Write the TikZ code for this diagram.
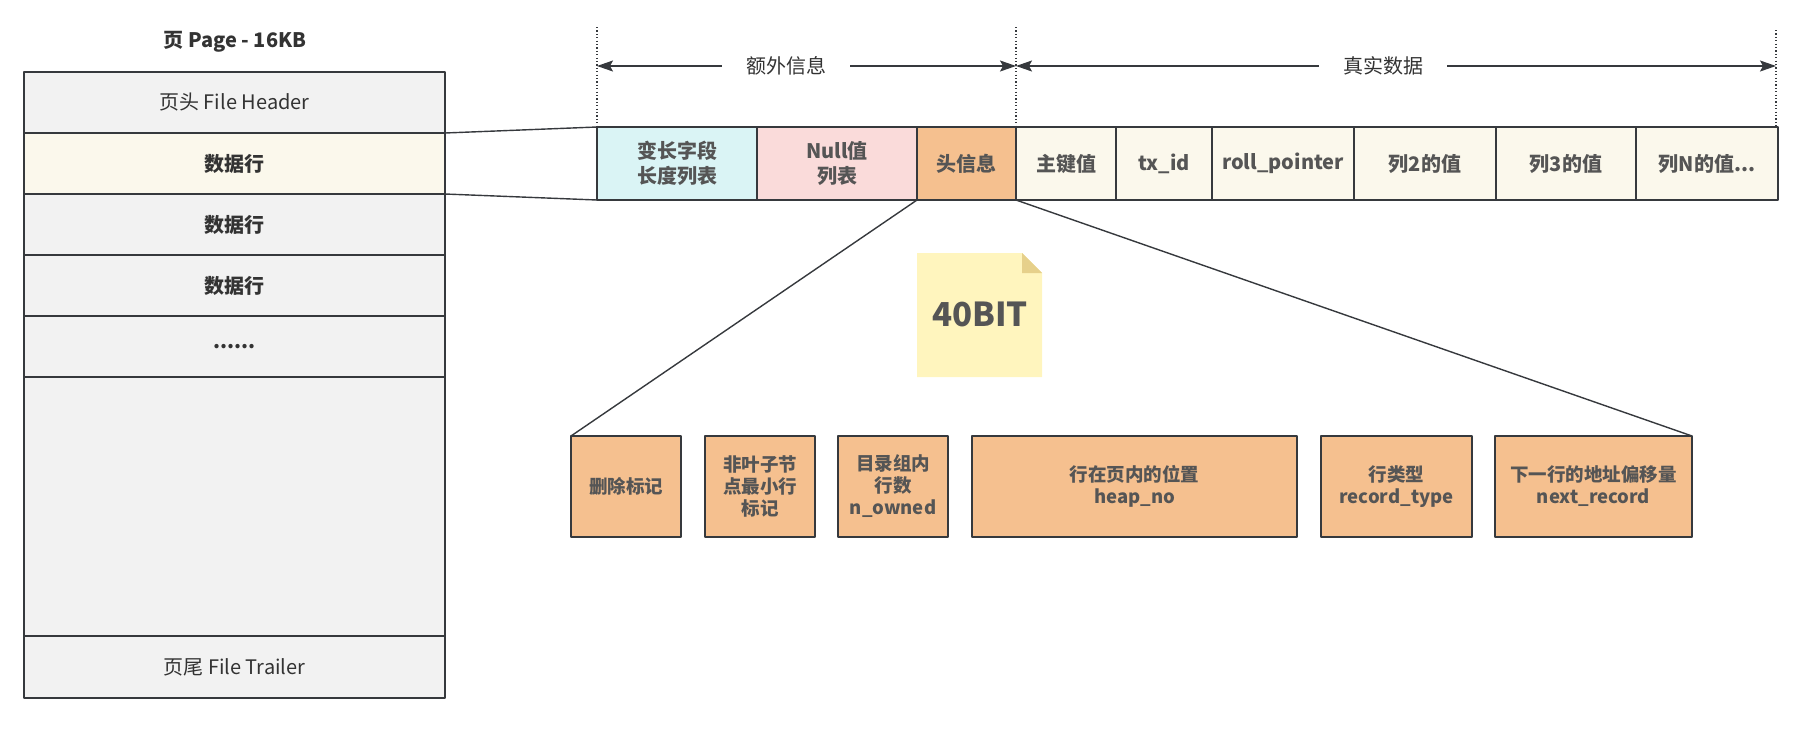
\documentclass[tikz,border=0pt]{standalone}
\usepackage{fontspec}
\setmainfont{Noto Sans CJK SC}
\usetikzlibrary{arrows.meta}
\definecolor{linegray}{HTML}{36393D}
\definecolor{txtdark}{HTML}{333333}
\definecolor{txtgray}{HTML}{555555}
\definecolor{pagegray}{HTML}{F2F2F2}
\definecolor{cream}{HTML}{FBF8EC}
\definecolor{varcyan}{HTML}{DAF4F5}
\definecolor{nullpink}{HTML}{FADBDA}
\definecolor{hdrorange}{HTML}{F5C08F}
\definecolor{notefill}{HTML}{FFF5BE}
\definecolor{foldfill}{HTML}{E6D08B}

\begin{document}
\begin{tikzpicture}[x=1pt, y=-1pt, line join=round, >={Stealth[length=16pt,width=11pt,inset=3pt]},
  box/.style={draw=linegray, line width=1.6pt, inner sep=0pt, outer sep=0pt, anchor=north west,
    align=center, text=txtgray, font=\bfseries\fontsize{20}{25}\selectfont},
  pagerow/.style={box, fill=pagegray, minimum width=421, text=txtdark},
  cell/.style={box, fill=cream, minimum height=73},
  bitbox/.style={box, fill=hdrorange, minimum height=101, font=\bfseries\fontsize{18.5}{22}\selectfont},
  link/.style={draw=linegray, line width=1.4pt},
  guide/.style={draw=linegray, line width=1.2pt, dash pattern=on 1.2pt off 2.2pt},
  span/.style={draw=linegray, line width=1.4pt, <->},
  spanlabel/.style={fill=white, inner xsep=24pt, inner ysep=2pt, text=txtdark, font=\fontsize{20}{24}\selectfont}]
  \useasboundingbox (0,0) rectangle (1798,729);

  \node[font=\bfseries\fontsize{20}{24}\selectfont, text=txtdark] (title) at (235,42) {页 Page - 16KB};
  \node[pagerow, minimum height=61, font=\fontsize{20}{24}\selectfont] (fhead) at (24,72) {页头 File Header};
  \node[pagerow, fill=cream, minimum height=61] (row1) at (24,133) {数据行};
  \node[pagerow, minimum height=61] (row2) at (24,194) {数据行};
  \node[pagerow, minimum height=61] (row3) at (24,255) {数据行};
  \node[pagerow, minimum height=61] (rowdots) at (24,316) {......};
  \node[pagerow, minimum height=259] (rowfree) at (24,377) {};
  \node[pagerow, minimum height=62, font=\fontsize{20}{24}\selectfont] (ftrail) at (24,636) {页尾 File Trailer};

  \node[cell, fill=varcyan, minimum width=160] (varlen) at (597,127) {变长字段\\长度列表};
  \node[cell, fill=nullpink, minimum width=160] (nulls) at (757,127) {Null值\\列表};
  \node[cell, fill=hdrorange, minimum width=99] (hdr) at (917,127) {头信息};
  \node[cell, minimum width=100] (pk) at (1016,127) {主键值};
  \node[cell, minimum width=96] (txid) at (1116,127) {tx\_id};
  \node[cell, minimum width=142] (rollptr) at (1212,127) {roll\_pointer};
  \node[cell, minimum width=142] (col2) at (1354,127) {列2的值};
  \node[cell, minimum width=140] (col3) at (1496,127) {列3的值};
  \node[cell, minimum width=142] (colN) at (1636,127) {列N的值...};

  \coordinate (gA) at (597,27);
  \coordinate (gB) at (1016,27);
  \coordinate (gC) at (1776,30);
  \draw[guide] (gA) -- (varlen.north west);
  \draw[guide] (gB) -- (pk.north west);
  \draw[guide] (gC) -- (gC |- colN.north);
  \coordinate (sA) at (597,66);
  \coordinate (sB) at (1016,66);
  \coordinate (sC) at (1776,66);
  \draw[span] (sA) -- (sB);
  \draw[span] (sB) -- (sC);
  \node[spanlabel] (extra) at (786,66) {额外信息};
  \node[spanlabel] (real) at (1383,66) {真实数据};

  \fill[notefill] (917,253) -- (1022,253) -- (1042,273) -- (1042,377) -- (917,377) -- cycle;
  \fill[foldfill] (1022,253) -- (1022,273) -- (1042,273) -- cycle;
  \node[font=\bfseries\fontsize{33}{40}\selectfont, text=txtgray] (bits) at (980,314) {40BIT};

  \node[bitbox, minimum width=110] (delflag) at (571,436) {删除标记};
  \node[bitbox, minimum width=110] (minrec) at (705,436) {非叶子节\\点最小行\\标记};
  \node[bitbox, minimum width=110] (nowned) at (838,436) {目录组内\\行数\\n\_owned};
  \node[bitbox, minimum width=325] (heapno) at (972,436) {行在页内的位置\\heap\_no};
  \node[bitbox, minimum width=151] (rectype) at (1321,436) {行类型\\record\_type};
  \node[bitbox, minimum width=197] (nextrec) at (1495,436) {下一行的地址偏移量\\next\_record};

  \draw[link] (row1.north east) -- (varlen.north west);
  \draw[link] (row1.south east) -- (varlen.south west);
  \draw[link] (hdr.south west) -- (delflag.north west);
  \draw[link] (hdr.south east) -- (nextrec.north east);
\end{tikzpicture}
\end{document}
